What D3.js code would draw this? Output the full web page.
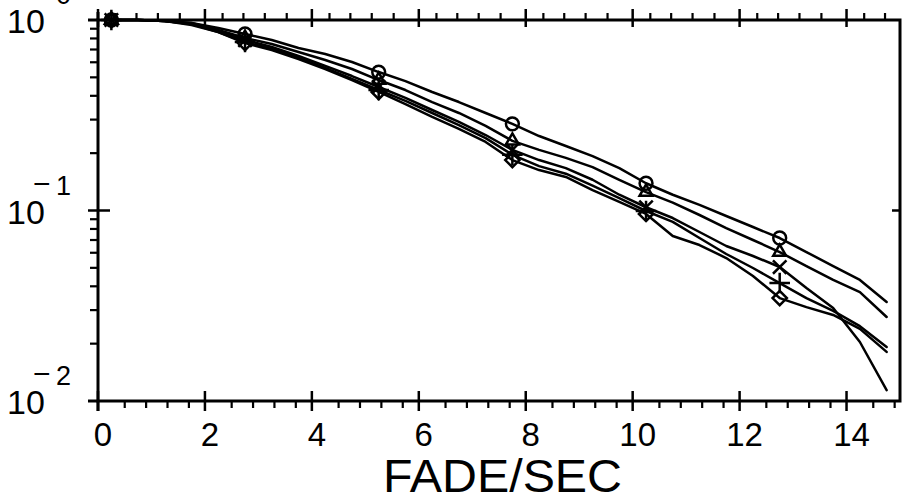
<!DOCTYPE html>
<html><head><meta charset="utf-8">
<script src="https://cdn.jsdelivr.net/npm/d3@7"></script>
<style>body{margin:0;background:#fff}svg{display:block}</style>
</head><body>
<svg id="chart" width="905" height="496"></svg>
<script>
// ---- data ----
const fadeTimes = [0.25,0.75,1.25,1.75,2.25,2.75,3.25,3.75,4.25,4.75,5.25,5.75,6.25,6.75,7.25,7.75,8.25,8.75,9.25,9.75,10.25,10.75,11.25,11.75,12.25,12.75,13.25,13.75,14.25,14.75];
const circleSeries   = [1.000,1.000,0.988,0.964,0.908,0.844,0.785,0.713,0.663,0.602,0.533,0.478,0.419,0.371,0.325,0.285,0.246,0.218,0.193,0.167,0.139,0.121,0.107,0.0936,0.0819,0.0717,0.0605,0.0511,0.0432,0.0331];
const triangleSeries = [1.000,1.000,0.988,0.964,0.886,0.804,0.748,0.679,0.617,0.553,0.484,0.429,0.371,0.325,0.278,0.232,0.208,0.189,0.169,0.145,0.125,0.110,0.0947,0.0809,0.0700,0.0605,0.0511,0.0432,0.0373,0.0276];
const crossSeries    = [1.000,1.000,0.988,0.953,0.876,0.785,0.722,0.647,0.574,0.508,0.445,0.390,0.337,0.292,0.249,0.208,0.184,0.167,0.145,0.121,0.104,0.0913,0.0771,0.0651,0.0577,0.0505,0.0392,0.0308,0.0204,0.0114];
const plusSeries     = [1.000,1.000,0.988,0.953,0.865,0.766,0.704,0.632,0.560,0.490,0.429,0.376,0.325,0.281,0.240,0.196,0.171,0.156,0.135,0.116,0.0994,0.0871,0.0717,0.0591,0.0499,0.0416,0.0347,0.0297,0.0247,0.0192];
const diamondSeries  = [1.000,1.000,0.988,0.941,0.865,0.757,0.696,0.624,0.553,0.484,0.419,0.362,0.310,0.268,0.229,0.184,0.163,0.150,0.128,0.111,0.0959,0.0735,0.0659,0.0563,0.0453,0.0347,0.0311,0.0283,0.0239,0.0181];
const markerTimes = [0.25,2.75,5.25,7.75,10.25,12.75];
const xMajorTicks = [0,2,4,6,8,10,12,14];
const xTickLabels = ["0","2","4","6","8","10","12","14"];
const xMinorBottom = [0.5,0.9,1.3,1.7,2.5,2.9,3.3,3.7,4.5,4.9,5.3,5.7,6.5,6.9,7.3,7.7,8.5,8.9,9.3,9.7,10.5,10.9,11.3,11.7,12.5,12.9,13.3,13.7,14.5,14.9];
const xMinorTop = [0.33,0.72,1.12,1.53,2.33,2.72,3.12,3.53,4.33,4.72,5.12,5.53,6.33,6.72,7.12,7.53,8.33,8.72,9.12,9.53,10.33,10.72,11.12,11.53,12.33,12.72,13.12,13.53,14.33,14.72];
const yMajorTicks = [1, 0.1, 0.01];
const yExponents = ["0","1","2"];
const yExpSigns = ["", "\u2212", "\u2212"];
const yMinorTicks = [0.02,0.03,0.04,0.05,0.06,0.07,0.08,0.09,0.2,0.3,0.4,0.5,0.6,0.7,0.8,0.9];
const xTitle = "FADE/SEC";

// ---- layout ----
const L = 98, R = 900, T = 20, B = 401;
const svg = d3.select("#chart");
const x = d3.scaleLinear().domain([0, 15]).range([L, R]);
const y = d3.scaleLog().domain([0.01, 1]).range([B, T]);
const FONT = "'Liberation Sans', Arial, sans-serif";

const seriesList = [
  {vals: circleSeries, sym: d3.symbolCircle, size: 130},
  {vals: triangleSeries, sym: d3.symbolTriangle2, size: 120},
  {vals: crossSeries, sym: d3.symbolTimes, size: 120},
  {vals: plusSeries, sym: d3.symbolPlus, size: 140},
  {vals: diamondSeries, sym: d3.symbolDiamond2, size: 130}
];

// lines
const line = d3.line().x(d => x(d[0])).y(d => y(d[1]));
seriesList.forEach(s => {
  const pts = fadeTimes.map((t, i) => [t, s.vals[i]]);
  svg.append("path").attr("d", line(pts))
    .attr("fill", "none").attr("stroke", "#000").attr("stroke-width", 2.5)
    .attr("stroke-linejoin", "round").attr("stroke-linecap", "round");
  const mk = pts.filter(p => markerTimes.includes(p[0]));
  svg.selectAll(null).data(mk).enter().append("path")
    .attr("d", d3.symbol().type(s.sym).size(s.size))
    .attr("transform", d => `translate(${x(d[0])},${y(d[1])})`)
    .attr("fill", "none").attr("stroke", "#000").attr("stroke-width", 2.5);
});

// frame
const ax = svg.append("g").attr("stroke", "#000").attr("stroke-linecap", "butt");
ax.append("rect").attr("x", L).attr("y", T).attr("width", R - L).attr("height", B - T)
  .attr("fill", "none").attr("stroke-width", 3);
ax.append("line").attr("x1", L - 10).attr("x2", L).attr("y1", T).attr("y2", T).attr("stroke-width", 3);
ax.append("line").attr("x1", L).attr("x2", L).attr("y1", T - 8).attr("y2", T).attr("stroke-width", 3);
ax.append("line").attr("x1", L - 10).attr("x2", L).attr("y1", B).attr("y2", B).attr("stroke-width", 3);
ax.append("line").attr("x1", L).attr("x2", L).attr("y1", B).attr("y2", B + 10).attr("stroke-width", 3);

xMajorTicks.forEach(v => {
  ax.append("line").attr("x1", x(v)).attr("x2", x(v)).attr("y1", B - 10).attr("y2", B + 10).attr("stroke-width", 2.5);
  ax.append("line").attr("x1", x(v)).attr("x2", x(v)).attr("y1", T - 11).attr("y2", T + 7).attr("stroke-width", 2.5);
});
xMinorBottom.forEach(v => {
  ax.append("line").attr("x1", x(v)).attr("x2", x(v)).attr("y1", B).attr("y2", B + 7).attr("stroke-width", 2.2);
});
xMinorTop.forEach(v => {
  ax.append("line").attr("x1", x(v)).attr("x2", x(v)).attr("y1", T - 7).attr("y2", T).attr("stroke-width", 2.2);
});
yMinorTicks.forEach(v => {
  ax.append("line").attr("x1", L - 8).attr("x2", L).attr("y1", y(v)).attr("y2", y(v)).attr("stroke-width", 2.2);
});
ax.append("line").attr("x1", L - 10).attr("x2", L + 12).attr("y1", y(0.1)).attr("y2", y(0.1)).attr("stroke-width", 2.5);
ax.append("line").attr("x1", R - 8).attr("x2", R).attr("y1", y(0.1)).attr("y2", y(0.1)).attr("stroke-width", 2.5);

// x tick labels
svg.selectAll(null).data(xMajorTicks).enter().append("text")
  .attr("x", d => x(d) + 5).attr("y", 446)
  .attr("text-anchor", "middle").attr("font-family", FONT).attr("font-size", 33)
  .text((d, i) => xTickLabels[i]);

// y tick labels 10^n
yMajorTicks.forEach((v, i) => {
  const py = y(v);
  svg.append("text").attr("x", 7).attr("y", py + 13)
    .attr("font-family", FONT).attr("font-size", 34).text("10");
  if (yExpSigns[i]) {
    svg.append("text").attr("x", 33).attr("y", py - 17)
      .attr("font-family", FONT).attr("font-size", 30).text(yExpSigns[i]);
  }
  svg.append("text").attr("x", 56).attr("y", py - 16)
    .attr("font-family", FONT).attr("font-size", 27).text(yExponents[i]);
});

// x title
svg.append("text").attr("x", 383).attr("y", 492)
  .attr("font-family", FONT).attr("font-size", 46)
  .attr("textLength", 239).attr("lengthAdjust", "spacingAndGlyphs")
  .text(xTitle);
</script>
</body></html>
